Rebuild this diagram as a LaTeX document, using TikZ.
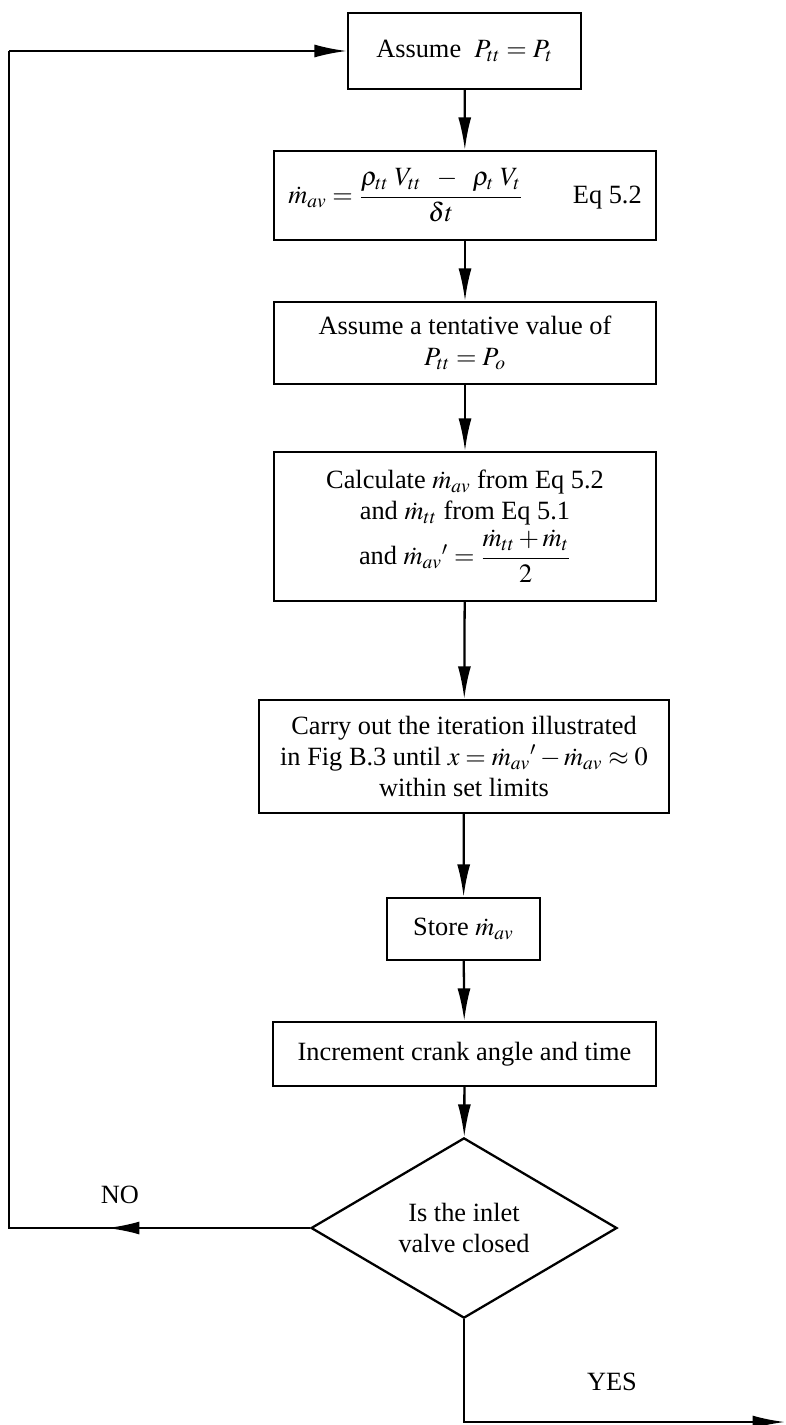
\documentclass[tikz,border=0pt]{standalone}
\usepackage{amsmath}
\usepackage{mathptmx}
\usepackage[no-math]{fontspec}
\setmainfont{Liberation Serif}
\usetikzlibrary{shapes.geometric, arrows.meta, positioning}

\begin{document}
\begin{tikzpicture}[x=0.02cm, y=-0.02cm,
  stepbox/.style={rectangle, draw, line width=1.3pt, text centered,
                  align=center, inner sep=2pt,
                  font=\fontsize{15}{17.5}\selectfont},
  decision/.style={diamond, draw, line width=1.3pt, align=center,
                   inner sep=0pt, minimum width=6.12cm, minimum height=3.32cm,
                   font=\fontsize{15}{17.5}\selectfont},
  lbl/.style={font=\fontsize{15}{17.5}\selectfont},
  arr/.style={-{Latex[length=6.5mm, width=2.6mm]}, line width=1.3pt}
]

\useasboundingbox (0,0) rectangle (785,1425);

\node[stepbox, minimum width=4.66cm, minimum height=1.52cm] (assume) at (464.5,51)
  {Assume\ \ $P_{tt} = P_t$};
\node[stepbox, minimum width=7.64cm, minimum height=1.78cm] (mdot) at (465,195.5)
  {$\dot m_{av} = \dfrac{\rho_{tt}\;V_{tt} \;\;-\;\; \rho_t\;V_t}{\delta t}$\hspace{1cm}Eq 5.2};
\node[stepbox, minimum width=7.64cm, minimum height=1.64cm] (tentative) at (465,343)
  {Assume a tentative value of\\$P_{tt} = P_o$};
\node[stepbox, minimum width=7.64cm, minimum height=2.98cm] (calc) at (465,526.5)
  {Calculate $\dot m_{av}$ from Eq 5.2\\and $\dot m_{tt}$ from Eq 5.1\\[2pt]
   and $\dot m_{av}{}' = \dfrac{\dot m_{tt} + \dot m_t}{2}$};
\node[stepbox, minimum width=8.2cm, minimum height=2.26cm] (iterate) at (464,756.5)
  {Carry out the iteration illustrated\\
   in Fig B.3 until $x = \dot m_{av}{}' - \dot m_{av} \approx 0$\\
   within set limits};
\node[stepbox, minimum width=3.06cm, minimum height=1.24cm] (store) at (463.5,929)
  {Store $\dot m_{av}$};
\node[stepbox, minimum width=7.66cm, minimum height=1.28cm] (increment) at (464.5,1054)
  {Increment crank angle and time};
\node[decision] (closed) at (464,1228) {Is the inlet\\valve closed};

\node[lbl] (nolabel) at (120,1195) {NO};
\node[lbl] (yeslabel) at (612,1382) {YES};

\coordinate (notip) at (107,1228);
\coordinate (loopbot) at (9,1228);
\coordinate (looptop) at (9,51);
\coordinate (yescorner) at (464,1422);
\coordinate (yesend) at (785,1422);

\draw[arr] (assume) -- (mdot);
\draw[arr] (mdot) -- (tentative);
\draw[arr] (tentative) -- (calc);
\draw[arr] (calc) -- (iterate);
\draw[arr] (iterate) -- (store);
\draw[arr] (store) -- (increment);
\draw[arr] (increment) -- (closed);

% NO: back to the top
\draw[line width=1.3pt] (closed.west) -- (loopbot) -- (looptop);
\draw[arr] (closed.west) -- (notip);
\draw[arr] (looptop) -- (assume.west);

% YES: out
\draw[arr] (closed.south) -- (yescorner) -- (yesend);

\end{tikzpicture}
\end{document}
